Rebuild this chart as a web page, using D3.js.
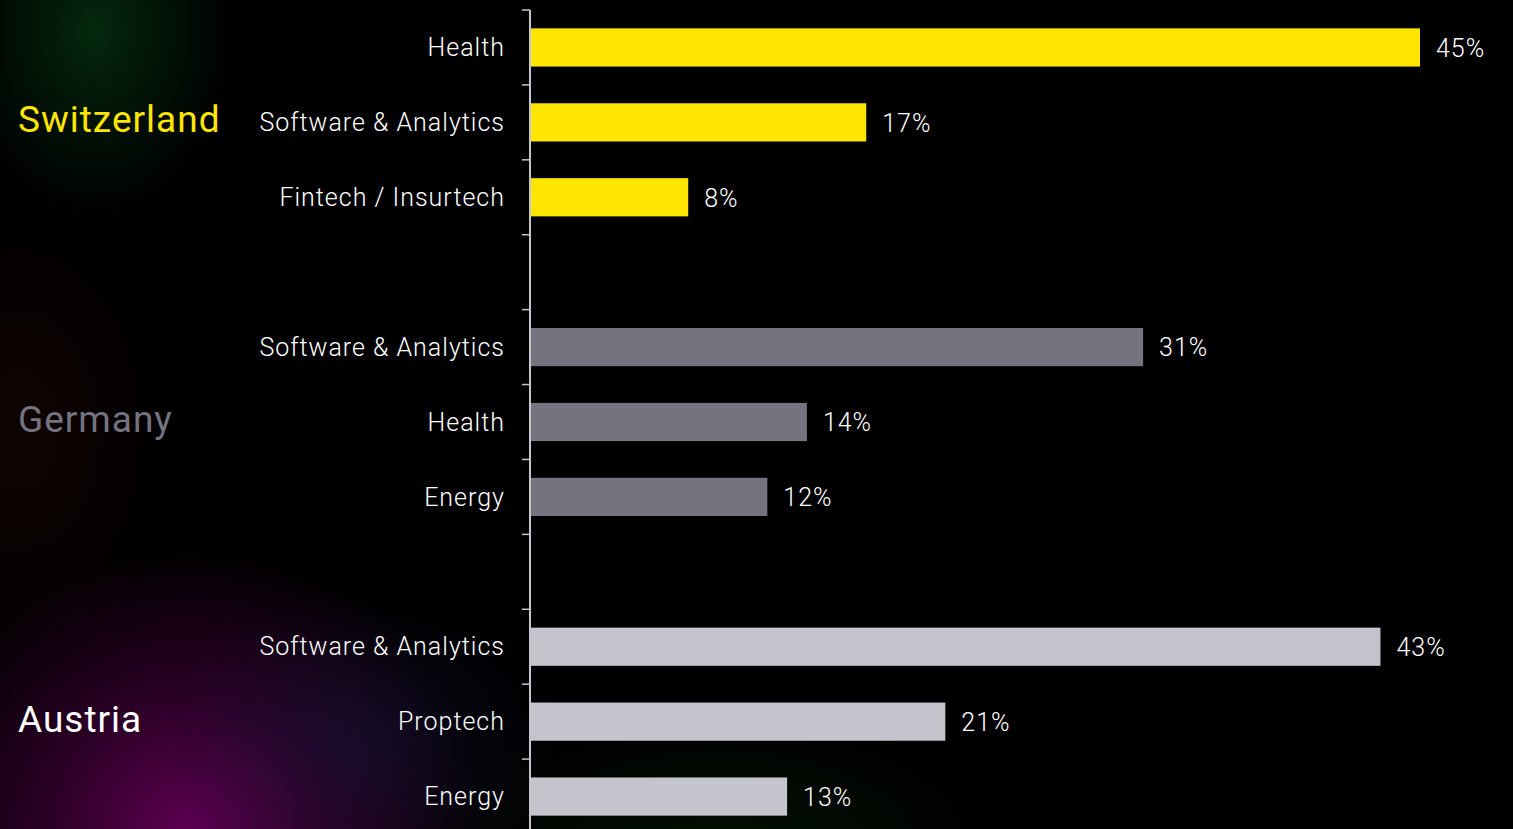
<!DOCTYPE html>
<html>
<head>
<meta charset="utf-8">
<script src="https://cdn.jsdelivr.net/npm/d3@7"></script>
<style>
  html, body { margin: 0; padding: 0; background: #000; overflow: hidden; }
  svg { display: block; }
  text { font-family: Roboto, "Open Sans", sans-serif; }
</style>
</head>
<body>
<svg id="chart" width="1513" height="829"></svg>
<script>
// Top sectors by country (share of deals, %)
const countries = ["Switzerland", "Germany", "Austria"];
const countryColors = ["#FFE600", "#747480", "#C4C4CD"];
const switzerlandSectors = ["Health", "Software & Analytics", "Fintech / Insurtech"];
const switzerlandValues = [45, 17, 8];
const germanySectors = ["Software & Analytics", "Health", "Energy"];
const germanyValues = [31, 14, 12];
const austriaSectors = ["Software & Analytics", "Proptech", "Energy"];
const austriaValues = [43, 21, 13];

const groups = [
  { country: countries[0], sectors: switzerlandSectors, values: switzerlandValues, color: countryColors[0], label: "#FFE600" },
  { country: countries[1], sectors: germanySectors, values: germanyValues, color: countryColors[1], label: "#747480" },
  { country: countries[2], sectors: austriaSectors, values: austriaValues, color: countryColors[2], label: "#FFFFFF" }
];

// Flatten into rows, inserting an empty spacer row between countries
const rows = [];
groups.forEach((g, gi) => {
  g.sectors.forEach((s, i) => rows.push({ key: g.country + "|" + s, sector: s, value: g.values[i], color: g.color, group: gi }));
  if (gi < groups.length - 1) rows.push({ key: "gap" + gi, spacer: true });
});

const svg = d3.select("#chart");
const W = 1513, H = 829;

// Background glows
const defs = svg.append("defs");
function glow(id, color, opacity) {
  const g = defs.append("radialGradient").attr("id", id);
  g.append("stop").attr("offset", "0%").attr("stop-color", color).attr("stop-opacity", opacity);
  g.append("stop").attr("offset", "50%").attr("stop-color", color).attr("stop-opacity", opacity * 0.45);
  g.append("stop").attr("offset", "100%").attr("stop-color", color).attr("stop-opacity", 0);
}
glow("gGreen", "#063a14", 0.7);
glow("gRed", "#200804", 0.5);
glow("gMagenta", "#5c0050", 1);
glow("gBlue", "#101838", 0.5);
glow("gGreenLow", "#082a08", 0.4);

svg.append("rect").attr("width", W).attr("height", H).attr("fill", "#000");
svg.append("ellipse").attr("cx", 95).attr("cy", 30).attr("rx", 140).attr("ry", 190).attr("fill", "url(#gGreen)");
svg.append("ellipse").attr("cx", 20).attr("cy", 430).attr("rx", 160).attr("ry", 240).attr("fill", "url(#gRed)");
svg.append("ellipse").attr("cx", 190).attr("cy", 830).attr("rx", 300).attr("ry", 280).attr("fill", "url(#gMagenta)");
svg.append("ellipse").attr("cx", 360).attr("cy", 740).attr("rx", 200).attr("ry", 150).attr("fill", "url(#gBlue)");
svg.append("ellipse").attr("cx", 720).attr("cy", 850).attr("rx", 300).attr("ry", 150).attr("fill", "url(#gGreenLow)");

// Scales
const axisX = 530;
const x = d3.scaleLinear().domain([0, 45]).range([axisX, 1420]);
const y = d3.scaleBand()
  .domain(rows.map(d => d.key))
  .range([10, 834])
  .paddingInner(0.49)
  .paddingOuter(0.245);
const step = y.step();
const gapHalf = (step - y.bandwidth()) / 2;

// Axis line with ticks at every row boundary
const axisColor = "#C4C4CD";
svg.append("line")
  .attr("x1", axisX).attr("x2", axisX)
  .attr("y1", 10).attr("y2", H)
  .attr("stroke", axisColor).attr("stroke-width", 2);
svg.append("g").selectAll("line").data(rows).join("line")
  .attr("x1", axisX - 8).attr("x2", axisX)
  .attr("y1", d => y(d.key) - gapHalf)
  .attr("y2", d => y(d.key) - gapHalf)
  .attr("stroke", axisColor).attr("stroke-width", 1.5);

const dataRows = rows.filter(d => !d.spacer);

// Bars
svg.append("g").selectAll("rect").data(dataRows).join("rect")
  .attr("x", axisX + 1)
  .attr("y", d => y(d.key))
  .attr("width", d => x(d.value) - axisX - 1)
  .attr("height", y.bandwidth())
  .attr("fill", d => d.color);

// Sector labels
svg.append("g").selectAll("text").data(dataRows).join("text")
  .attr("x", 505)
  .attr("y", d => y(d.key) + y.bandwidth() / 2)
  .attr("dy", "0.35em")
  .attr("text-anchor", "end")
  .attr("fill", "#fff")
  .attr("font-size", 25)
  .attr("font-weight", 300)
  .attr("letter-spacing", 1)
  .text(d => d.sector);

// Value labels
svg.append("g").selectAll("text").data(dataRows).join("text")
  .attr("x", d => x(d.value) + 16)
  .attr("y", d => y(d.key) + y.bandwidth() / 2)
  .attr("dy", "0.37em")
  .attr("fill", "#fff")
  .attr("font-size", 25)
  .attr("font-weight", 300)
  .attr("letter-spacing", 1)
  .text(d => d.value + "%");

// Country labels, centred on each group's middle row
svg.append("g").selectAll("text").data(groups).join("text")
  .attr("x", 18)
  .attr("y", g => y(g.country + "|" + g.sectors[1]) + y.bandwidth() / 2 - 3)
  .attr("dy", "0.35em")
  .attr("fill", g => g.label)
  .attr("font-size", 37)
  .attr("font-weight", 400)
  .attr("letter-spacing", 1)
  .text(g => g.country);
</script>
</body>
</html>
